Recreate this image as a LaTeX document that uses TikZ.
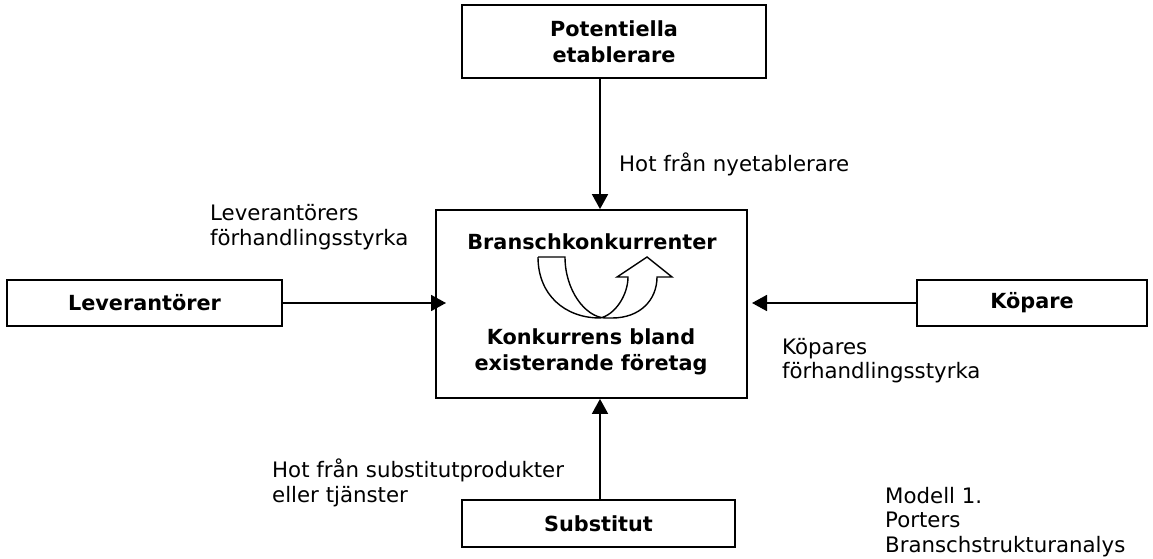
\documentclass[tikz,border=0pt]{standalone}
\usepackage{fontspec}
\setmainfont{DejaVu Sans}
\usetikzlibrary{arrows.meta}
\begin{document}
\begin{tikzpicture}[x=1pt,y=-1pt,
  box/.style={draw,line width=1.8pt,inner sep=0pt},
  lbl/.style={font=\fontsize{21.3}{24.5}\selectfont,align=left,anchor=west,inner sep=0pt},
  blbl/.style={font=\fontsize{20.8}{26}\selectfont\bfseries,align=center,inner sep=0pt},
  conn/.style={line width=1.8pt,-{Triangle[length=15pt,width=16pt]}}]
\useasboundingbox (0,0) rectangle (1153,559);
% boxes
\node[box,minimum width=304pt,minimum height=73pt] (pot) at (614,41.5) {};
\node[blbl] at (pot.center) {Potentiella\\etablerare};
\node[box,minimum width=311pt,minimum height=188pt] (bk) at (591.5,304) {};
\node[box,minimum width=275pt,minimum height=46pt] (lev) at (144.5,303) {};
\node[blbl] at (lev.center) {Leverantörer};
\node[box,minimum width=230pt,minimum height=46pt] (kop) at (1032,303) {};
\node[blbl] at (kop.center) {Köpare};
\node[box,minimum width=273pt,minimum height=47pt] (sub) at (598.5,523.5) {};
\node[blbl] at (sub.center) {Substitut};
% inner texts
\node[blbl] (bt) at (592,242) {Branschkonkurrenter};
\node[blbl] (kt) at (591,352) {Konkurrens bland\\existerande företag};
% curved arrow
\draw[line width=1.4pt,line join=miter]
  (538,257) -- (565,257) .. controls (565,290) and (585,317) .. (605,318)
  -- (612,318) .. controls (640,318) and (657,300) .. (657,277)
  -- (672,277) -- (647,257) -- (617,277) -- (628,277)
  .. controls (628,295) and (615,315) .. (600,318)
  .. controls (565,318) and (538,295) .. (538,257);
% connectors
\draw[conn] (pot.south -| bk.north) ++(8.5,0) coordinate (pt) -- (pt |- bk.north);
\draw[conn] (lev.east) -- (446,303);
\draw[conn] (kop.west) -- (752,303);
\draw[conn] (sub.north) ++(1.5,0) coordinate (sn) -- (sn |- bk.south);
% labels
\node[lbl] at (619,164) {Hot från nyetablerare};
\node[lbl] at (210,227) {Leverantörers\\förhandlingsstyrka};
\node[lbl] at (782,360.5) {Köpares\\förhandlingsstyrka};
\node[lbl] at (272,483) {Hot från substitutprodukter\\eller tjänster};
\node[lbl] at (885,522) {Modell 1.\\Porters\\Branschstrukturanalys};
\end{tikzpicture}
\end{document}
